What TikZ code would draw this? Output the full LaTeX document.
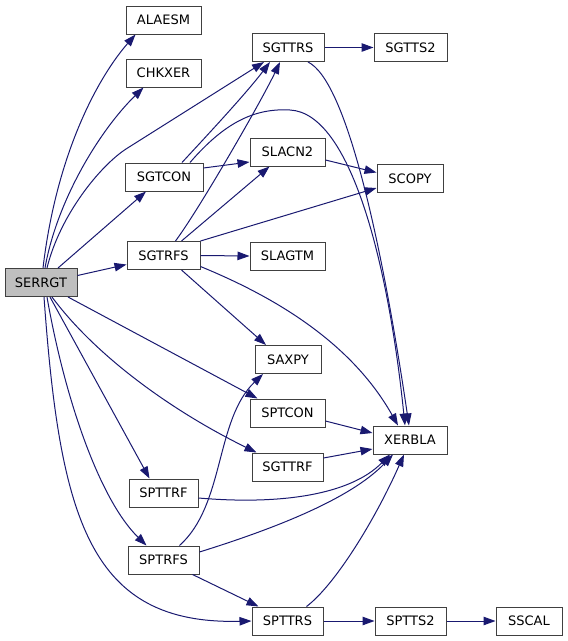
\documentclass[tikz,border=0pt]{standalone}
\usepackage{fontspec}
\setmainfont{DejaVu Sans}
\usetikzlibrary{arrows.meta}
\definecolor{edgeblue}{HTML}{191970}
\definecolor{boxgray}{HTML}{BFBFBF}

\begin{document}
\begin{tikzpicture}[x=1pt,y=-1pt,
  fn/.style={draw=black!75,line width=1pt,fill=white,minimum height=28pt,inner sep=0pt,font=\fontsize{13}{15}\selectfont},
  call/.style={edgeblue,line width=1pt,-{Triangle[length=12pt,width=8.5pt]}}]
\useasboundingbox (0,0) rectangle (568,641);
\node[fn,fill=boxgray,minimum width=72pt] (serrgt) at (41,282.5){SERRGT};
\foreach \n/\x/\y/\w/\t in {alaesm/163.5/20/75/ALAESM,chkxer/163.5/73/75/CHKXER,sgtcon/164/177/78/SGTCON,
  sgtrfs/163.5/255.5/73/SGTRFS,spttrf/163.5/493/69/SPTTRF,sptrfs/163.5/560/71/SPTRFS,
  sgttrs/288/47.5/72/SGTTRS,slacn2/287.5/152/75/SLACN2,slagtm/287.5/256/75/SLAGTM,saxpy/288/359.5/66/SAXPY,
  sptcon/287.5/413/75/SPTCON,sgttrf/287.5/467/71/SGTTRF,spttrs/287.5/621/71/SPTTRS,
  sgtts2/410.5/47.5/73/SGTTS2,scopy/410/178.5/66/SCOPY,xerbla/410/440/74/XERBLA,
  sptts2/410.5/621/71/SPTTS2,sscal/529/621/66/SSCAL}{\node[fn,minimum width=\w pt] (\n) at (\x,\y){\t};}
% calls of SERRGT
\draw[call] ([xshift=2pt]serrgt.north) .. controls (57,150) and (100,75) .. ([xshift=-28pt]alaesm.south);
\draw[call] ([xshift=4pt]serrgt.north) .. controls (57,200) and (100,130) .. ([xshift=-20pt]chkxer.south);
\draw[call] ([xshift=6pt]serrgt.north) .. controls (60,215) and (100,166) .. (126,149) -- ([xshift=-24pt]sgttrs.south);
\draw[call] ([xshift=17pt]serrgt.north) -- ([xshift=-18pt]sgtcon.south);
\draw[call] ([yshift=7pt]serrgt.east) -- ([yshift=-9pt]sgtrfs.west);
\draw[call] ([xshift=27pt]serrgt.south) -- ([xshift=-30pt]sptcon.north);
\draw[call] ([xshift=11pt]serrgt.south) .. controls (95,355) and (170,410) .. ([xshift=-31pt]sgttrf.north);
\draw[call] ([xshift=9pt]serrgt.south) -- ([xshift=-14pt]spttrf.north);
\draw[call] ([xshift=6pt]serrgt.south) .. controls (65,400) and (100,500) .. ([xshift=-17pt]sptrfs.north);
\draw[call] ([xshift=3pt]serrgt.south) .. controls (60,520) and (90,625) .. (spttrs.west);
% second level
\draw[call] ([xshift=18pt]sgtcon.north) .. controls (200,143) and (245,95) .. ([xshift=-18pt]sgttrs.south);
\draw[call] ([xshift=26pt]sgtcon.north) .. controls (225,122) and (255,108) .. (290,110) .. controls (350,113) and (388,260) .. ([xshift=-5pt]xerbla.north);
\draw[call] ([yshift=9pt]sgtcon.east) -- ([yshift=-10pt]slacn2.west);
\draw[call] ([xshift=12pt]sgtrfs.north) .. controls (200,208) and (262,100) .. ([xshift=-8pt]sgttrs.south);
\draw[call] ([xshift=18pt]sgtrfs.north) -- ([xshift=-18pt]slacn2.south);
\draw[call] (sgtrfs.north east) -- ([yshift=5pt]scopy.south west);
\draw[call] (sgtrfs.east) -- (slagtm.west);
\draw[call] ([yshift=-11pt]sgtrfs.east) .. controls (270,295) and (350,340) .. ([xshift=-12pt]xerbla.north);
\draw[call] ([xshift=18pt]sgtrfs.south) -- ([xshift=-22pt]saxpy.north);
\draw[call] ([yshift=-8pt]slacn2.east) -- ([yshift=6pt]scopy.west);
\draw[call] (sgttrs.east) -- (sgtts2.west);
\draw[call] ([xshift=20pt]sgttrs.south) .. controls (345,80) and (380,230) .. ([xshift=-1pt]xerbla.north);
\draw[call] ([yshift=-8pt]sptcon.east) -- ([yshift=7pt]xerbla.west);
\draw[call] ([yshift=9pt]sgttrf.east) -- ([yshift=-9pt]xerbla.west);
\draw[call] ([yshift=-5pt]spttrf.east) .. controls (280,505) and (350,495) .. ([xshift=-20pt]xerbla.south);
\draw[call] ([yshift=8pt]sptrfs.east) .. controls (270,530) and (350,500) .. ([xshift=-17pt]xerbla.south);
\draw[call] ([xshift=16pt]sptrfs.north) .. controls (225,505) and (215,420) .. ([xshift=-25pt]saxpy.south);
\draw[call] ([xshift=29pt]sptrfs.south) -- ([xshift=-29pt]spttrs.north);
\draw[call] ([xshift=19pt]spttrs.north) .. controls (335,585) and (375,520) .. ([xshift=-6pt]xerbla.south);
\draw[call] (spttrs.east) -- (sptts2.west);
\draw[call] (sptts2.east) -- (sscal.west);
\end{tikzpicture}
\end{document}
